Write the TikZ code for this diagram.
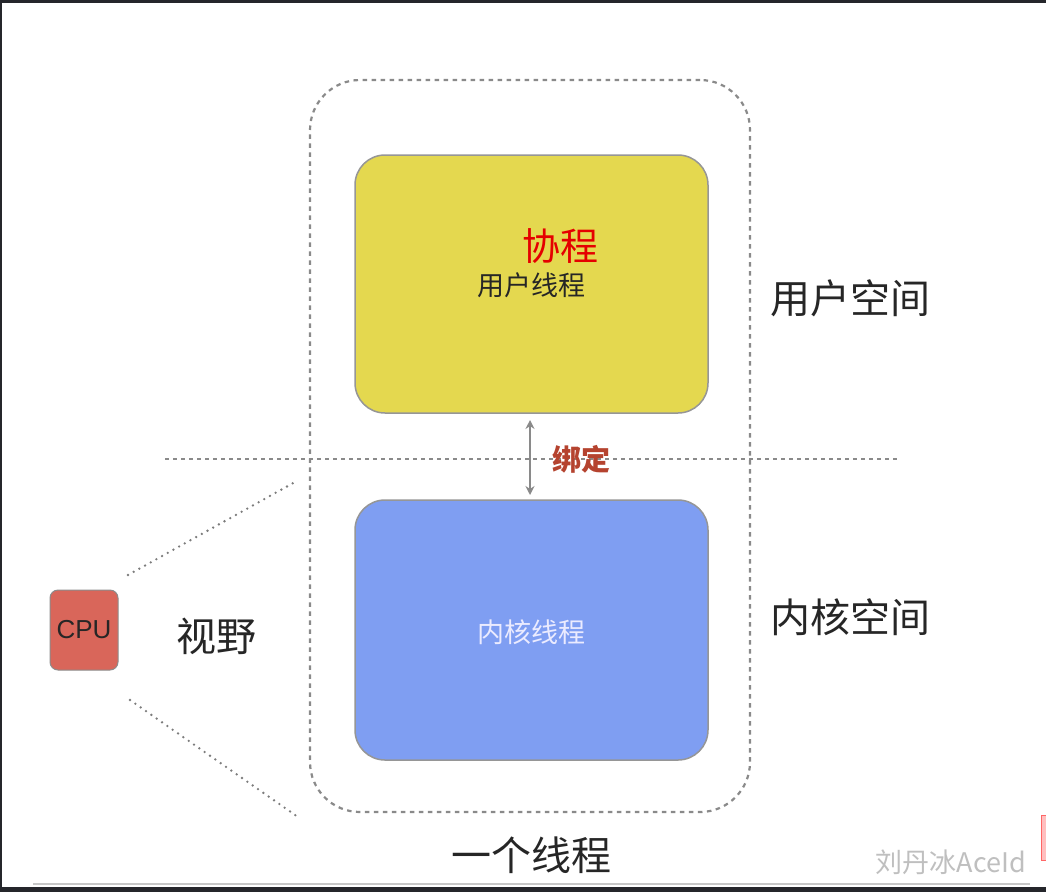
\documentclass[tikz,border=0pt]{standalone}
\usepackage{fontspec}
\usetikzlibrary{arrows.meta}
\setmainfont{Noto Sans CJK SC}
\newfontfamily\cpufont{Liberation Sans}
\definecolor{frame}{HTML}{25262B}
\definecolor{yel}{HTML}{E4D84F}
\definecolor{blu}{HTML}{7F9EF2}
\definecolor{cpu}{HTML}{D9665A}
\definecolor{bind}{HTML}{B5432F}
\definecolor{lgray}{HTML}{8A8A8A}
\tikzset{
  box/.style={draw=lgray!90, line width=1.5pt, rounded corners=30pt},
  big/.style={font=\fontsize{40}{44}\selectfont, text=black!85},
  mid/.style={font=\fontsize{27}{30}\selectfont},
  dots/.style={lgray!90!black, line width=2.6pt, line cap=round, dash pattern=on 0pt off 6.5pt},
}
\begin{document}
\begin{tikzpicture}[x=1pt,y=-1pt]
\useasboundingbox (0,0) rectangle (1046,892);
\fill[white] (0,0) rectangle (1046,892);
% screenshot frame
\fill[frame] (0,0) rectangle (1046,3);
\fill[frame] (0,0) rectangle (2,892);
\fill[frame] (0,887) rectangle (1046,892);
\draw[black!22, line width=2pt] (33,884) -- (1030,884);
\fill[red!25, draw=red!60, line width=1pt] (1041,815) rectangle (1050,860);
% container
\node (cont) [draw=lgray, dash pattern=on 4.5pt off 4.5pt, line width=2.2pt, rounded corners=50pt,
  minimum width=440pt, minimum height=732pt, inner sep=0pt] at (530,446) {};
% divider
\coordinate (dl) at (165,459);
\coordinate (dr) at (898,459);
\draw[lgray, dash pattern=on 4pt off 4pt, line width=1.6pt] (dl) -- (dr);
% boxes
\node (user) [box, fill=yel, minimum width=353pt, minimum height=258pt, inner sep=0pt] at (531.5,284) {};
\node (kern) [box, fill=blu, minimum width=353pt, minimum height=260pt, inner sep=0pt] at (531.5,630) {};
\node (xc) [font=\fontsize{38}{40}\selectfont, text=red!90!black] at (560,246) {协程};
\node (ut) [mid, text=black!85] at (531,285) {用户线程};
\node (kt) [mid, text=white!92!blue] at (531,632) {内核线程};
% binding arrow
\coordinate (a1) at (530,420);
\coordinate (a2) at (530,495);
\draw[lgray, line width=2.2pt, <->, >={Stealth[length=9pt,width=9pt]}] (a1) -- (a2);
\node (bd) [font=\fontsize{29}{30}\selectfont\bfseries, text=bind] at (581,459) {绑定};
% labels
\node (us) [big] at (850,298) {用户空间};
\node (ks) [big] at (850,617) {内核空间};
\node (one) [big] at (531,855) {一个线程};
\node (view) [big] at (216,636) {视野};
% CPU
\node (cpubox) [draw=black!45, line width=1pt, fill=cpu, rounded corners=8pt, minimum width=68pt, minimum height=80pt, inner sep=0pt,
  font=\cpufont\fontsize{26}{28}\selectfont, text=black!85] at (84,630) {CPU};
\coordinate (v1) at (128,575);
\coordinate (v2) at (295,482);
\coordinate (v3) at (130,700);
\coordinate (v4) at (298,817);
\draw[dots] (v1) -- (v2);
\draw[dots] (v3) -- (v4);
% watermark
\node (wm) [font=\fontsize{27}{30}\selectfont, text=black!25] at (951,862) {刘丹冰AceId};
\end{tikzpicture}
\end{document}
